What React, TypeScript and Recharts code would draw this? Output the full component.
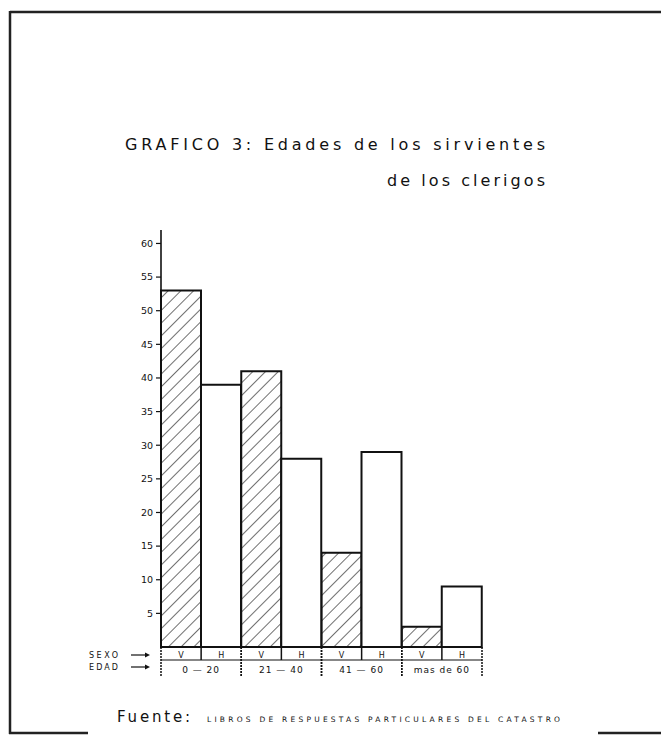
import React from 'react';
import { BarChart, Bar, XAxis, YAxis } from 'recharts';

// age groups and counts
const AGE_GROUPS = ['0 — 20', '21 — 40', '41 — 60', 'mas de 60'];
const VARONES = [53, 41, 14, 3];
const HEMBRAS = [39, 28, 29, 9];
const Y_TICKS = [5, 10, 15, 20, 25, 30, 35, 40, 45, 50, 55, 60];

const data = AGE_GROUPS.map((edad, i) => ({ edad, V: VARONES[i], H: HEMBRAS[i] }));

const W = 661;
const H = 735;
const MARGIN = { top: 230, right: 179, bottom: 58, left: 101 };
const Y_AXIS_W = 60;
const PLOT_W = W - MARGIN.left - Y_AXIS_W - MARGIN.right;
const HALF = PLOT_W / AGE_GROUPS.length / 2;
const FONT = '"DejaVu Sans", Verdana, sans-serif';

// the little sexo / edad table under the bars
const TableTick = (props: any) => {
  const { x, y, payload } = props;
  return (
    <g fontFamily={FONT} fill="#111">
      <line x1={x - HALF} x2={x + HALF} y1={y + 13} y2={y + 13} stroke="#111" strokeWidth={1.2} />
      <line x1={x} x2={x} y1={y} y2={y + 13} stroke="#111" strokeWidth={1.5} />
      <line x1={x - HALF} x2={x - HALF} y1={y} y2={y + 30} stroke="#111" strokeWidth={1.5} strokeDasharray="2 1" />
      <line x1={x + HALF} x2={x + HALF} y1={y} y2={y + 30} stroke="#111" strokeWidth={1.5} strokeDasharray="2 1" />
      <text x={x - HALF / 2} y={y + 10.5} fontSize={8} textAnchor="middle">V</text>
      <text x={x + HALF / 2} y={y + 10.5} fontSize={8} textAnchor="middle">H</text>
      <text x={x} y={y + 26} fontSize={9} textAnchor="middle" letterSpacing={1}>{payload.value}</text>
    </g>
  );
};

const Arrow = ({ y }: { y: number }) => (
  <g>
    <line x1={131} x2={146} y1={y} y2={y} stroke="#111" strokeWidth={1.2} />
    <path d={`M145 ${y - 2.5} L150 ${y} L145 ${y + 2.5} Z`} fill="#111" />
  </g>
);

export default function App() {
  return (
    <div style={{ position: 'absolute', top: 0, left: 0, width: W, height: H, background: '#fff' }}>
      <svg width={0} height={0} style={{ position: 'absolute' }}>
        <defs>
          <pattern id="hatch" patternUnits="userSpaceOnUse" width={9} height={9} patternTransform="rotate(45)">
            <rect width={9} height={9} fill="#fff" />
            <line x1={0} y1={0} x2={0} y2={9} stroke="#222" strokeWidth={1.3} />
          </pattern>
        </defs>
      </svg>

      <BarChart
        width={W}
        height={H}
        data={data}
        margin={MARGIN}
        barCategoryGap={0}
        barGap={0}
        style={{ position: 'absolute', top: 0, left: 0 }}
      >
        <XAxis
          dataKey="edad"
          height={30}
          tickLine={false}
          tickSize={0}
          tickMargin={0}
          axisLine={{ stroke: '#111', strokeWidth: 2 }}
          tick={<TableTick />}
          interval={0}
        />
        <YAxis
          width={Y_AXIS_W}
          domain={[0, 62]}
          ticks={Y_TICKS}
          tickSize={5}
          tickMargin={3}
          axisLine={{ stroke: '#111', strokeWidth: 1.6 }}
          tickLine={{ stroke: '#111', strokeWidth: 1.2 }}
          tick={{ fill: '#111', fontSize: 9.5, fontFamily: FONT }}
        />
        <Bar dataKey="V" fill="url(#hatch)" stroke="#111" strokeWidth={2} isAnimationActive={false} />
        <Bar dataKey="H" fill="#fff" stroke="#111" strokeWidth={2} isAnimationActive={false} />
      </BarChart>

      <svg width={W} height={H} style={{ position: 'absolute', top: 0, left: 0, pointerEvents: 'none' }}>
        {/* page frame of the scan */}
        <line x1={10} x2={661} y1={12} y2={12} stroke="#222" strokeWidth={2.5} />
        <line x1={10} x2={10} y1={11} y2={734} stroke="#222" strokeWidth={2.5} />
        <line x1={9} x2={88} y1={733} y2={733} stroke="#222" strokeWidth={2.5} />
        <line x1={598} x2={661} y1={733} y2={733} stroke="#222" strokeWidth={2.5} />

        <g fontFamily={FONT} fill="#111">
          <text x={125} y={150} fontSize={16} textLength={420} lengthAdjust="spacing">
            GRAFICO 3: Edades de los sirvientes
          </text>
          <text x={387} y={186} fontSize={16} textLength={158} lengthAdjust="spacing">
            de los clerigos
          </text>

          <text x={89} y={658} fontSize={8} textLength={29} lengthAdjust="spacing">SEXO</text>
          <text x={89} y={670} fontSize={8} textLength={29} lengthAdjust="spacing">EDAD</text>

          <text x={117} y={722} fontSize={15} textLength={73} lengthAdjust="spacing">Fuente:</text>
          <text x={207} y={722} fontSize={7.5} textLength={353} lengthAdjust="spacing">
            LIBROS DE RESPUESTAS PARTICULARES DEL CATASTRO
          </text>
        </g>
        <Arrow y={655} />
        <Arrow y={667} />
      </svg>
    </div>
  );
}
